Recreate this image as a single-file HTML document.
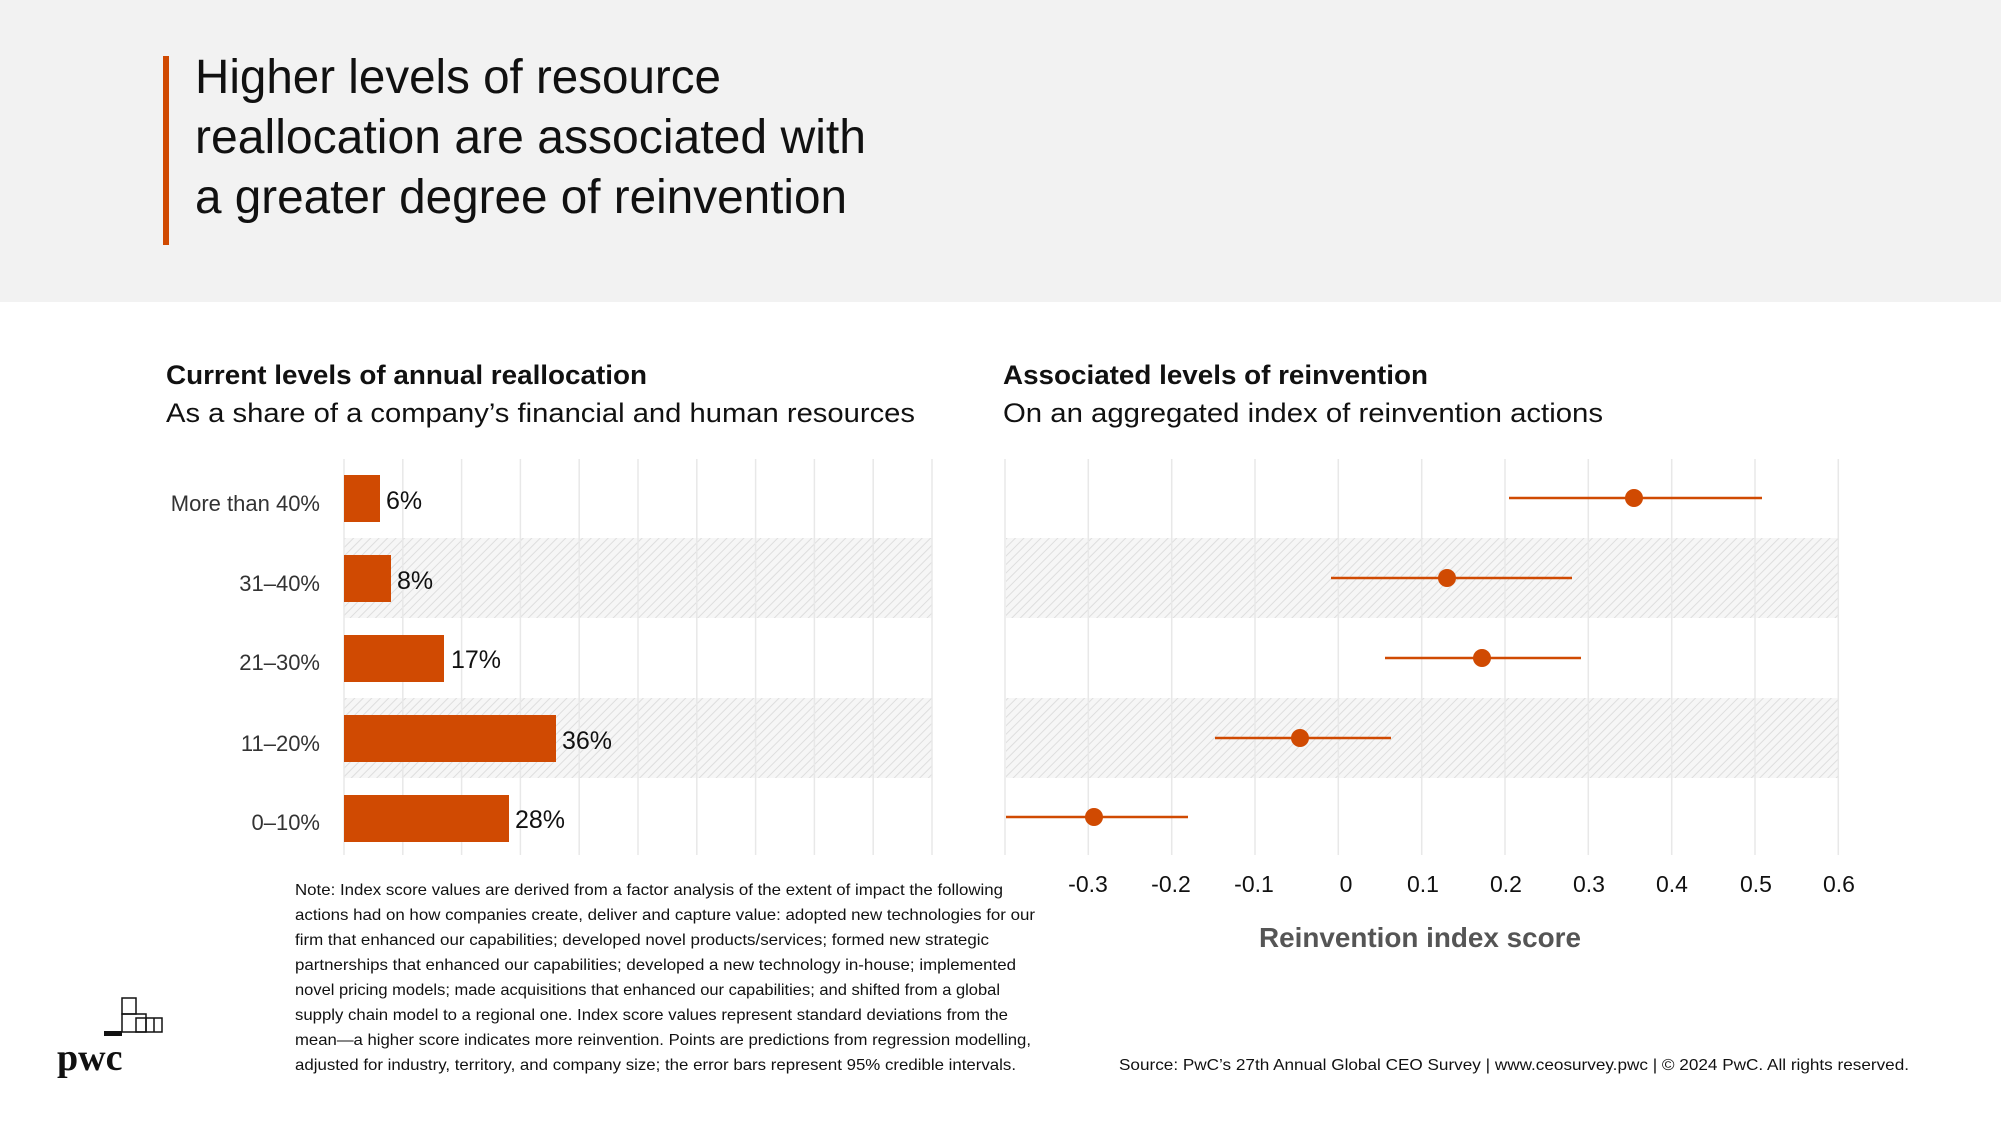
<!DOCTYPE html>
<html><head><meta charset="utf-8"><style>
html,body{margin:0;padding:0;background:#fff}
svg{display:block}
text{font-family:"Liberation Sans",sans-serif}
</style></head><body>
<svg width="2001" height="1125" viewBox="0 0 2001 1125" xmlns="http://www.w3.org/2000/svg">
<defs>
<pattern id="h" width="6" height="6" patternUnits="userSpaceOnUse" patternTransform="rotate(45)">
<rect width="6" height="6" fill="#f6f6f6"/><line x1="0" y1="0" x2="0" y2="6" stroke="#dedede" stroke-width="2"/>
</pattern>
</defs>
<rect x="0" y="0" width="2001" height="302" fill="#f2f2f2"/>
<rect x="163" y="56" width="6" height="189" fill="#d04a02"/>
<g font-size="48" fill="#111">
<text x="195" y="93" textLength="526" lengthAdjust="spacingAndGlyphs">Higher levels of resource</text>
<text x="195" y="153" textLength="671" lengthAdjust="spacingAndGlyphs">reallocation are associated with</text>
<text x="195" y="213" textLength="652" lengthAdjust="spacingAndGlyphs">a greater degree of reinvention</text>
</g>
<g font-size="27" fill="#111">
<text x="166" y="384" font-weight="bold" textLength="481" lengthAdjust="spacingAndGlyphs">Current levels of annual reallocation</text>
<text x="166" y="422" textLength="749" lengthAdjust="spacingAndGlyphs">As a share of a company’s financial and human resources</text>
<text x="1003" y="384" font-weight="bold" textLength="425" lengthAdjust="spacingAndGlyphs">Associated levels of reinvention</text>
<text x="1003" y="422" textLength="600" lengthAdjust="spacingAndGlyphs">On an aggregated index of reinvention actions</text>
</g>
<!-- left chart -->
<rect x="344" y="538" width="588" height="80" fill="url(#h)"/>
<rect x="344" y="698" width="588" height="80" fill="url(#h)"/>
<g stroke="#e8e8e8" stroke-width="1.5">
<line x1="344" y1="459" x2="344" y2="855"/><line x1="402.8" y1="459" x2="402.8" y2="855"/><line x1="461.6" y1="459" x2="461.6" y2="855"/><line x1="520.4" y1="459" x2="520.4" y2="855"/><line x1="579.2" y1="459" x2="579.2" y2="855"/><line x1="638" y1="459" x2="638" y2="855"/><line x1="696.8" y1="459" x2="696.8" y2="855"/><line x1="755.6" y1="459" x2="755.6" y2="855"/><line x1="814.4" y1="459" x2="814.4" y2="855"/><line x1="873.2" y1="459" x2="873.2" y2="855"/><line x1="932" y1="459" x2="932" y2="855"/>
</g>
<g fill="#d04a02">
<rect x="344" y="475" width="36" height="47"/>
<rect x="344" y="555" width="47" height="47"/>
<rect x="344" y="635" width="100" height="47"/>
<rect x="344" y="715" width="212" height="47"/>
<rect x="344" y="795" width="165" height="47"/>
</g>
<g font-size="22" fill="#333" text-anchor="end">
<text x="320" y="511">More than 40%</text>
<text x="320" y="591">31–40%</text>
<text x="320" y="670">21–30%</text>
<text x="320" y="751">11–20%</text>
<text x="320" y="830">0–10%</text>
</g>
<g font-size="25" fill="#111">
<text x="386" y="509">6%</text>
<text x="397" y="589">8%</text>
<text x="451" y="668">17%</text>
<text x="562" y="749">36%</text>
<text x="515" y="828">28%</text>
</g>
<!-- right chart -->
<rect x="1006" y="538" width="832" height="80" fill="url(#h)"/>
<rect x="1006" y="698" width="832" height="80" fill="url(#h)"/>
<g stroke="#e8e8e8" stroke-width="1.5">
<line x1="1005" y1="459" x2="1005" y2="855"/><line x1="1088.3" y1="459" x2="1088.3" y2="855"/><line x1="1171.7" y1="459" x2="1171.7" y2="855"/><line x1="1255" y1="459" x2="1255" y2="855"/><line x1="1338.3" y1="459" x2="1338.3" y2="855"/><line x1="1421.7" y1="459" x2="1421.7" y2="855"/><line x1="1505" y1="459" x2="1505" y2="855"/><line x1="1588.3" y1="459" x2="1588.3" y2="855"/><line x1="1671.7" y1="459" x2="1671.7" y2="855"/><line x1="1755" y1="459" x2="1755" y2="855"/><line x1="1838.3" y1="459" x2="1838.3" y2="855"/>
</g>
<g stroke="#d04a02" stroke-width="2.5">
<line x1="1509" y1="498" x2="1762" y2="498"/>
<line x1="1331" y1="578" x2="1572" y2="578"/>
<line x1="1385" y1="658" x2="1581" y2="658"/>
<line x1="1215" y1="738" x2="1391" y2="738"/>
<line x1="1006" y1="817" x2="1188" y2="817"/>
</g>
<g fill="#d04a02">
<circle cx="1634" cy="498" r="9"/>
<circle cx="1447" cy="578" r="9"/>
<circle cx="1482" cy="658" r="9"/>
<circle cx="1300" cy="738" r="9"/>
<circle cx="1094" cy="817" r="9"/>
</g>
<g font-size="23" fill="#111" text-anchor="middle">
<text x="1088" y="892">-0.3</text><text x="1171" y="892">-0.2</text><text x="1254" y="892">-0.1</text><text x="1346" y="892">0</text><text x="1423" y="892">0.1</text><text x="1506" y="892">0.2</text><text x="1589" y="892">0.3</text><text x="1672" y="892">0.4</text><text x="1756" y="892">0.5</text><text x="1839" y="892">0.6</text>
</g>
<text x="1420" y="947" font-size="28" font-weight="bold" fill="#555" text-anchor="middle" textLength="322" lengthAdjust="spacingAndGlyphs">Reinvention index score</text>
<!-- note -->
<g font-size="16" fill="#111">
<text x="295" y="895" textLength="708" lengthAdjust="spacingAndGlyphs">Note: Index score values are derived from a factor analysis of the extent of impact the following</text>
<text x="295" y="920" textLength="740" lengthAdjust="spacingAndGlyphs">actions had on how companies create, deliver and capture value: adopted new technologies for our</text>
<text x="295" y="945" textLength="694" lengthAdjust="spacingAndGlyphs">firm that enhanced our capabilities; developed novel products/services; formed new strategic</text>
<text x="295" y="970" textLength="721" lengthAdjust="spacingAndGlyphs">partnerships that enhanced our capabilities; developed a new technology in-house; implemented</text>
<text x="295" y="995" textLength="705" lengthAdjust="spacingAndGlyphs">novel pricing models; made acquisitions that enhanced our capabilities; and shifted from a global</text>
<text x="295" y="1020" textLength="713" lengthAdjust="spacingAndGlyphs">supply chain model to a regional one. Index score values represent standard deviations from the</text>
<text x="295" y="1045" textLength="736" lengthAdjust="spacingAndGlyphs">mean—a higher score indicates more reinvention. Points are predictions from regression modelling,</text>
<text x="295" y="1070" textLength="721" lengthAdjust="spacingAndGlyphs">adjusted for industry, territory, and company size; the error bars represent 95% credible intervals.</text>
<text x="1119" y="1070" textLength="790" lengthAdjust="spacingAndGlyphs">Source: PwC’s 27th Annual Global CEO Survey  |  www.ceosurvey.pwc  |  © 2024 PwC. All rights reserved.</text>
</g>
<!-- logo -->
<g fill="none" stroke="#111" stroke-width="1.5">
<rect x="122" y="998" width="14" height="16"/><rect x="122" y="1014" width="24" height="18"/><rect x="136" y="1018" width="26" height="14"/>
<line x1="146" y1="1018" x2="146" y2="1032"/><line x1="154" y1="1018" x2="154" y2="1032"/>
</g>
<rect x="104" y="1031" width="18" height="5" fill="#111"/>
<text x="57" y="1070" style="font-family:'Liberation Serif',serif;font-weight:bold" font-size="38" fill="#111">pwc</text>
</svg>
</body></html>
